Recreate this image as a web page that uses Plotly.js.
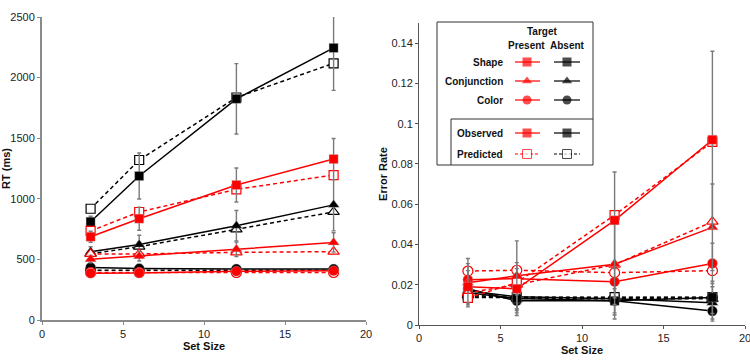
<!DOCTYPE html>
<html>
<head>
<meta charset="utf-8">
<script src="https://cdn.plot.ly/plotly-3.0.1.min.js"></script>
<style>html,body{margin:0;padding:0;background:#fff}#chart{width:750px;height:361px}</style>
</head>
<body>
<div id="chart"></div>
<script>
// ---- data ----
const setSize = [3, 6, 12, 18];

// RT (ms)
const rtShapePresObs  = [687, 836, 1114, 1328];
const rtShapePresPred = [735, 891, 1078, 1196];
const rtShapeAbsObs   = [811, 1188, 1825, 2245];
const rtShapeAbsPred  = [918, 1320, 1836, 2118];
const rtConjPresObs   = [502, 527, 583, 640];
const rtConjPresPred  = [545, 545, 558, 564];
const rtConjAbsObs    = [564, 622, 778, 950];
const rtConjAbsPred   = [547, 605, 748, 892];
const rtColorPresObs  = [386, 388, 402, 406];
const rtColorPresPred = [392, 392, 392, 392];
const rtColorAbsObs   = [434, 425, 421, 420];
const rtColorAbsPred  = [410, 410, 410, 410];
// RT error bars (+/-)
const rtShapePresErr = [45, 95, 140, 170];
const rtShapeAbsErr  = [45, 190, 290, 350];
const rtConjPresErr  = [30, 40, 60, 80];
const rtConjAbsErr   = [40, 77, 125, 215];
const rtColorPresErr = [20, 20, 20, 20];
const rtColorAbsErr  = [20, 20, 25, 25];

// Error rate
const erShapePresObs  = [0.019, 0.018, 0.052, 0.092];
const erShapePresPred = [0.0135, 0.021, 0.0546, 0.091];
const erShapeAbsObs   = [0.016, 0.0132, 0.012, 0.0137];
const erShapeAbsPred  = [0.014, 0.0138, 0.0138, 0.0138];
const erConjPresObs   = [0.021, 0.0245, 0.0302, 0.0485];
const erConjPresPred  = [0.016, 0.020, 0.030, 0.0513];
const erConjAbsObs    = [0.017, 0.014, 0.013, 0.011];
const erConjAbsPred   = [0.015, 0.0132, 0.013, 0.013];
const erColorPresObs  = [0.0225, 0.023, 0.0215, 0.0306];
const erColorPresPred = [0.0268, 0.0272, 0.026, 0.027];
const erColorAbsObs   = [0.018, 0.012, 0.012, 0.0069];
const erColorAbsPred  = [0.0136, 0.0136, 0.0136, 0.0136];
// Error-rate error bars (+/-)
const erShapePresErr = [0.008, 0.010, 0.024, 0.044];
const erShapeAbsErr  = [0.006, 0.0085, 0.009, 0.008];
const erConjPresErr  = [0.012, 0.0173, 0.020, 0.0215];
const erConjAbsErr   = [0.006, 0.006, 0.008, 0.008];
const erColorPresErr = [0.008, 0.008, 0.008, 0.010];
const erColorAbsErr  = [0.006, 0.006, 0.006, 0.005];

// legend labels
const legendRows = ['Shape', 'Conjunction', 'Color'];
const legendRowSymbols = ['square', 'triangle-up', 'circle'];
const legendKinds = ['Observed', 'Predicted'];

// ---- styling ----
const RED = '#ff0000', BLACK = '#000000', GRAY = '#7a7a7a';
const FONT = 'Liberation Sans, Arial, Helvetica, sans-serif';

function series(x, y, err, color, symbol, predicted, xa, ya) {
  const t = {
    type: 'scatter', mode: 'lines+markers', x: x, y: y,
    xaxis: xa, yaxis: ya, showlegend: false, hoverinfo: 'skip', cliponaxis: true,
    line: {color: color, width: 1.5, dash: predicted ? '4px,3px' : 'solid'},
    marker: {
      symbol: symbol, size: symbol === 'triangle-up' ? 10 : (symbol === 'circle' ? 10 : 9),
      color: predicted ? '#ffffff' : color,
      line: {color: predicted ? color : 'rgba(180,180,180,0.6)', width: predicted ? 1.2 : 0.6}
    }
  };
  if (err) {
    t.error_y = {type: 'data', array: err, visible: true, color: GRAY, thickness: 1.4, width: 2};
  }
  return t;
}

const data = [];
// left panel: RT
data.push(series(setSize, rtColorAbsPred, null, BLACK, 'circle', true, 'x', 'y'));
data.push(series(setSize, rtColorAbsObs, rtColorAbsErr, BLACK, 'circle', false, 'x', 'y'));
data.push(series(setSize, rtConjAbsPred, null, BLACK, 'triangle-up', true, 'x', 'y'));
data.push(series(setSize, rtConjAbsObs, rtConjAbsErr, BLACK, 'triangle-up', false, 'x', 'y'));
data.push(series(setSize, rtShapeAbsPred, null, BLACK, 'square', true, 'x', 'y'));
data.push(series(setSize, rtShapeAbsObs, rtShapeAbsErr, BLACK, 'square', false, 'x', 'y'));
data.push(series(setSize, rtColorPresPred, null, RED, 'circle', true, 'x', 'y'));
data.push(series(setSize, rtColorPresObs, rtColorPresErr, RED, 'circle', false, 'x', 'y'));
data.push(series(setSize, rtConjPresPred, null, RED, 'triangle-up', true, 'x', 'y'));
data.push(series(setSize, rtConjPresObs, rtConjPresErr, RED, 'triangle-up', false, 'x', 'y'));
data.push(series(setSize, rtShapePresPred, null, RED, 'square', true, 'x', 'y'));
data.push(series(setSize, rtShapePresObs, rtShapePresErr, RED, 'square', false, 'x', 'y'));
// right panel: error rate
data.push(series(setSize, erColorAbsPred, null, BLACK, 'circle', true, 'x2', 'y2'));
data.push(series(setSize, erColorAbsObs, erColorAbsErr, BLACK, 'circle', false, 'x2', 'y2'));
data.push(series(setSize, erConjAbsPred, null, BLACK, 'triangle-up', true, 'x2', 'y2'));
data.push(series(setSize, erConjAbsObs, erConjAbsErr, BLACK, 'triangle-up', false, 'x2', 'y2'));
data.push(series(setSize, erShapeAbsPred, null, BLACK, 'square', true, 'x2', 'y2'));
data.push(series(setSize, erShapeAbsObs, erShapeAbsErr, BLACK, 'square', false, 'x2', 'y2'));
data.push(series(setSize, erColorPresPred, null, RED, 'circle', true, 'x2', 'y2'));
data.push(series(setSize, erColorPresObs, erColorPresErr, RED, 'circle', false, 'x2', 'y2'));
data.push(series(setSize, erConjPresPred, null, RED, 'triangle-up', true, 'x2', 'y2'));
data.push(series(setSize, erConjPresObs, erConjPresErr, RED, 'triangle-up', false, 'x2', 'y2'));
data.push(series(setSize, erShapePresPred, null, RED, 'square', true, 'x2', 'y2'));
data.push(series(setSize, erShapePresObs, erShapePresErr, RED, 'square', false, 'x2', 'y2'));

// ---- custom legend drawn on a pixel-coordinate overlay axis (x3/y3) ----
const legRowY = [62, 81, 100];
const legKindY = [133, 154];
const redX = [515, 527, 540], blackX = [554, 567, 580];
function legItem(xs, yy, color, symbol, predicted) {
  return {
    type: 'scatter', mode: 'lines+markers', x: xs, y: [yy, yy, yy], xaxis: 'x3', yaxis: 'y3',
    showlegend: false, hoverinfo: 'skip',
    line: {color: color, width: 1.2, dash: predicted ? '3px,2px' : 'solid'},
    marker: {symbol: symbol, size: [0, 9, 0], color: predicted ? '#fff' : color,
             line: {color: color, width: predicted ? 1 : 0}}
  };
}
legendRows.forEach((r, i) => {
  data.push(legItem(redX, legRowY[i], RED, legendRowSymbols[i], false));
  data.push(legItem(blackX, legRowY[i], BLACK, legendRowSymbols[i], false));
});
legendKinds.forEach((k, i) => {
  data.push(legItem(redX, legKindY[i], RED, 'square', i === 1));
  data.push(legItem(blackX, legKindY[i], BLACK, 'square', i === 1));
});

const annotations = [];
function txt(x, y, t, anchor) {
  annotations.push({xref: 'x3', yref: 'y3', x: x, y: y, text: '<b>' + t + '</b>', showarrow: false,
    xanchor: anchor || 'center', yanchor: 'middle', font: {family: FONT, size: 10, color: '#111'}});
}
txt(542, 31, 'Target');
txt(526, 45, 'Present');
txt(567, 45, 'Absent');
legendRows.forEach((r, i) => txt(505, legRowY[i], r, 'right'));
legendKinds.forEach((k, i) => txt(505, legKindY[i], k, 'right'));

const shapes = [
  {type: 'rect', xref: 'x3', yref: 'y3', x0: 437, x1: 593, y0: 22, y1: 165,
   line: {color: '#333', width: 1}, fillcolor: 'rgba(0,0,0,0)', layer: 'above'},
  {type: 'line', xref: 'x3', yref: 'y3', x0: 451, x1: 593, y0: 119, y1: 119, line: {color: '#333', width: 1}},
  {type: 'line', xref: 'x3', yref: 'y3', x0: 451, x1: 451, y0: 119, y1: 165, line: {color: '#333', width: 1}}
];

const tickFont = {family: FONT, size: 11, color: '#222'};
const titleFont = {family: FONT, size: 11, color: '#111'};
const layout = {
  width: 750, height: 361,
  margin: {l: 0, r: 0, t: 0, b: 0},
  paper_bgcolor: '#fff', plot_bgcolor: 'rgba(0,0,0,0)',
  showlegend: false,
  xaxis: {domain: [42/750, 366/750], range: [0, 20], dtick: 5, anchor: 'y',
    showline: true, linecolor: '#8a8a8a', linewidth: 2, ticks: 'outside', ticklen: 3,
    tickcolor: '#8a8a8a', tickwidth: 1, showgrid: false, zeroline: false, tickfont: tickFont,
    title: {text: '<b>Set Size</b>', font: titleFont, standoff: 0}},
  yaxis: {domain: [41/361, 344/361], range: [0, 2500], dtick: 500, anchor: 'x',
    showline: true, linecolor: '#8a8a8a', linewidth: 2, ticks: 'outside', ticklen: 3,
    tickcolor: '#8a8a8a', tickwidth: 1, showgrid: false, zeroline: false, tickfont: tickFont,
    title: {text: '<b>RT (ms)</b>', font: titleFont, standoff: 4}},
  xaxis2: {domain: [419/750, 745/750], range: [0, 20], dtick: 5, anchor: 'y2',
    showline: true, linecolor: '#555', linewidth: 1, ticks: 'outside', ticklen: 3,
    tickcolor: '#555', tickwidth: 1, showgrid: false, zeroline: false, tickfont: tickFont,
    ticklabeloverflow: 'allow',
    title: {text: '<b>Set Size</b>', font: titleFont, standoff: 0}},
  yaxis2: {domain: [36/361, 338/361], range: [0, 0.15], dtick: 0.02, anchor: 'x2',
    showline: true, linecolor: '#555', linewidth: 1, ticks: 'outside', ticklen: 3,
    tickcolor: '#555', tickwidth: 1, showgrid: false, zeroline: false, tickfont: tickFont,
    title: {text: '<b>Error Rate</b>', font: titleFont, standoff: 1}},
  xaxis3: {domain: [0, 1], range: [0, 750], visible: false, anchor: 'y3', fixedrange: true},
  yaxis3: {domain: [0, 1], range: [361, 0], visible: false, anchor: 'x3', fixedrange: true},
  annotations: annotations,
  shapes: shapes,
  font: {family: FONT}
};

Plotly.newPlot('chart', data, layout, {staticPlot: true, displayModeBar: false});
</script>
</body>
</html>
